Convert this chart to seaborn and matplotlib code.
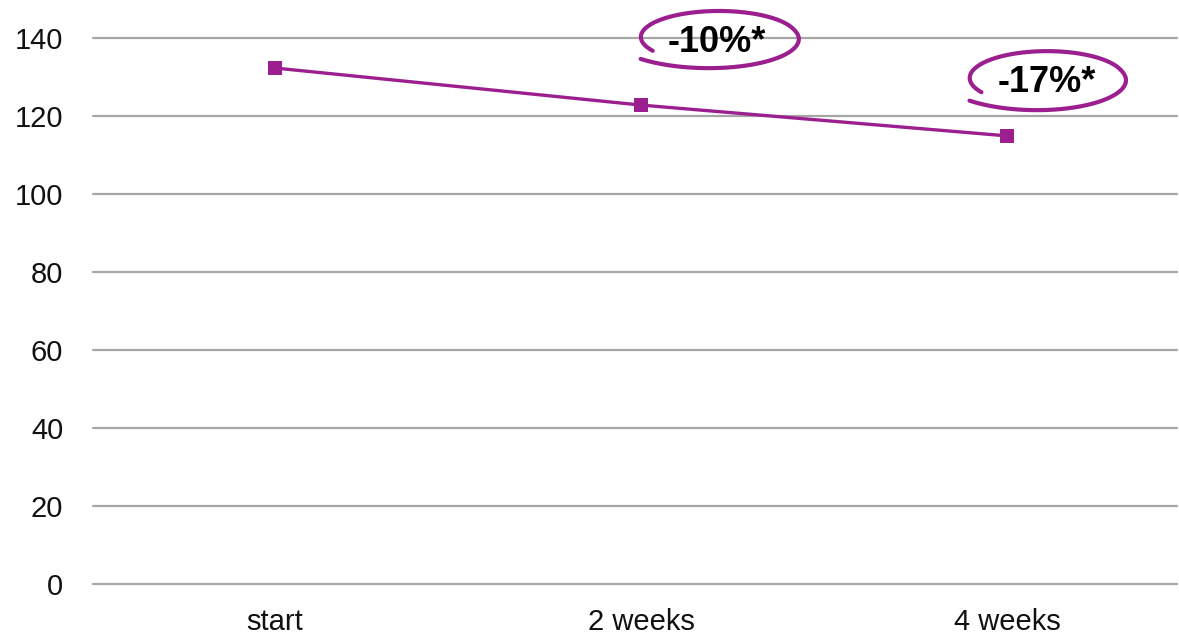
import numpy as np
import pandas as pd
import matplotlib
matplotlib.use("Agg")
import matplotlib.pyplot as plt
import seaborn as sns

# Measurements over time
timepoints = ["start", "2 weeks", "4 weeks"]
values = [132.3, 122.8, 114.9]
changes = ["-10%*", "-17%*"]

y_ticks = [0, 20, 40, 60, 80, 100, 120, 140]

PURPLE = "#9B1F8E"
GRID = "#A6A6A6"
W, H = 1179, 638

sns.set_theme(style="white")
plt.rcParams["font.family"] = ["Liberation Sans", "DejaVu Sans"]

fig = plt.figure(figsize=(W / 100, H / 100), dpi=100)
ax = fig.add_axes([93 / W, 1 - 584 / H, (1177 - 93) / W, (584 - 38) / H])

df = pd.DataFrame({"time": timepoints, "value": values})
df["pos"] = np.arange(len(timepoints))

ax.set_yticks(y_ticks)
ax.set_ylim(0, 140)
ax.set_xlim(-0.497, 2.464)
ax.yaxis.grid(True, color=GRID, linewidth=1.6)
for gl in ax.get_ygridlines():
    gl.set_clip_on(False)
ax.set_axisbelow(True)
for s in ax.spines.values():
    s.set_visible(False)

sns.lineplot(data=df, x="pos", y="value", ax=ax, color=PURPLE, linewidth=2.4,
             marker="s", markersize=9.5, markeredgewidth=0, clip_on=False, zorder=3)

ax.set_xticks(df["pos"])
ax.set_xticklabels(timepoints)
ax.tick_params(axis="both", length=0, labelsize=21, colors="#111111")
ax.tick_params(axis="y", pad=21.5)
ax.tick_params(axis="x", pad=17.5)
ax.set_xlabel("")
ax.set_ylabel("")


def loop_marker(cx, cy, w, h, text, tx, ty):
    """Hand-drawn style open loop around a text label, in pixel coordinates."""
    t = np.linspace(np.deg2rad(212), np.deg2rad(212 - 352), 240)
    frac = (t - t[0]) / (t[-1] - t[0])
    r = 0.84 + 0.26 * np.clip((frac - 0.55) / 0.45, 0, 1) ** 1.3
    px = cx + w * r * np.cos(t)
    py = cy - h * r * np.sin(t)
    fig.add_artist(plt.Line2D(px / W, 1 - py / H, color=PURPLE, linewidth=3.0,
                              transform=fig.transFigure, solid_capstyle="round"))
    fig.text(tx / W, 1 - ty / H, text, ha="center", va="center",
             fontsize=26, fontweight="bold", color="black")


loop_marker(719, 37, 93, 31, changes[0], 717, 42)
loop_marker(1047, 78, 92, 32, changes[1], 1047, 82)

fig.savefig("out.png", dpi=100)
